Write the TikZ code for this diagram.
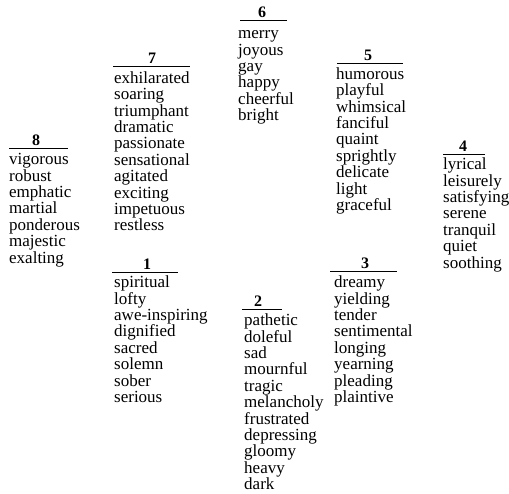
\documentclass[tikz,border=0pt]{standalone}
\usepackage{fontspec}
\setmainfont{Liberation Serif}
\newcommand\hgrp[9]{%
  \node[numlabel] (n#1) at (#3,#4-3) {#2};
  \coordinate (r#1a) at (#5,#4);
  \coordinate (r#1b) at (#6,#4);
  \draw[grprule] (r#1a) -- (r#1b);
  \node[wordlist] (w#1) at (#7,#8-10.5) {\rule{0pt}{12pt}#9};
}
\begin{document}
\begin{tikzpicture}[x=1pt,y=-1pt,
  wordlist/.style={anchor=north west, inner sep=0pt, align=left,
    font=\fontsize{17}{16.4}\selectfont},
  numlabel/.style={anchor=base, inner sep=0pt,
    font=\fontsize{16}{16}\selectfont\bfseries},
  grprule/.style={line width=0.8pt}]
\useasboundingbox (0,0) rectangle (509,493);
\hgrp{8}{8}{36}{148}{9}{68}{9}{163}{vigorous\\robust\\emphatic\\martial\\ponderous\\majestic\\exalting}
\hgrp{7}{7}{152}{66}{113}{190}{114}{81.5}{exhilarated\\soaring\\triumphant\\dramatic\\passionate\\sensational\\agitated\\exciting\\impetuous\\restless}
\hgrp{6}{6}{262}{20}{240}{287}{238}{37}{merry\\joyous\\gay\\happy\\cheerful\\bright}
\hgrp{5}{5}{368}{63}{337}{403}{336}{77.5}{humorous\\playful\\whimsical\\fanciful\\quaint\\sprightly\\delicate\\light\\graceful}
\hgrp{4}{4}{463}{154}{443}{485}{443}{168}{lyrical\\leisurely\\satisfying\\serene\\tranquil\\quiet\\soothing}
\hgrp{3}{3}{365}{271}{330}{397}{334}{286}{dreamy\\yielding\\tender\\sentimental\\longing\\yearning\\pleading\\plaintive}
\hgrp{2}{2}{258}{309}{242}{282}{244}{324}{pathetic\\doleful\\sad\\mournful\\tragic\\melancholy\\frustrated\\depressing\\gloomy\\heavy\\dark}
\hgrp{1}{1}{147}{272}{112}{178}{114}{286}{spiritual\\lofty\\awe-inspiring\\dignified\\sacred\\solemn\\sober\\serious}
\end{tikzpicture}
\end{document}
